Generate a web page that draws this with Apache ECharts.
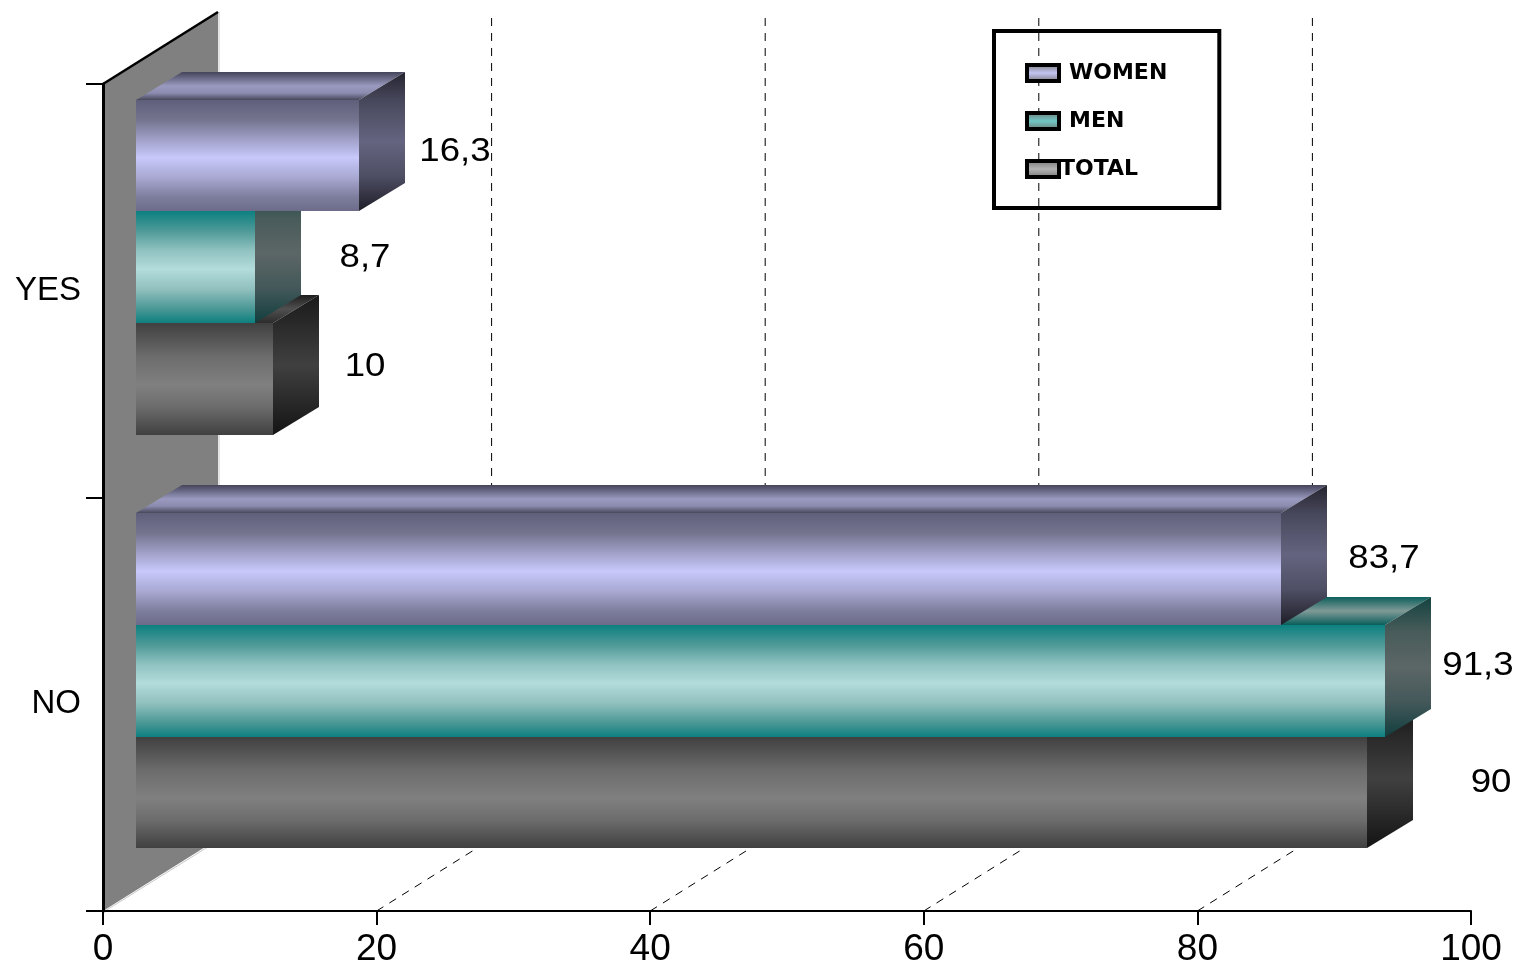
<!DOCTYPE html>
<html>
<head>
<meta charset="utf-8">
<style>html,body{margin:0;padding:0;background:#fff}#chart{width:1520px;height:964px}</style>
<script src="https://cdn.jsdelivr.net/npm/echarts@6/dist/echarts.min.js"></script>
</head>
<body>
<div id="chart"></div>
<script>
// ---- data ----
const categories = ['YES', 'NO'];
const women = [16.3, 83.7];
const men = [8.7, 91.3];
const total = [10, 90];
const xTicks = [0, 20, 40, 60, 80];

// ---- layout / style ----
const DEPTH = { dx: 46, dy: -28 };      // depth of each 3D bar
const WALL = { dx: 115, dy: -72 };      // depth of the chart box
const BAR_SHIFT = { dx: 33, dy: -23.5 };  // where the bars sit inside the box
const BAR_BAND = 0.27;
const palette = {
  WOMEN: {
    front: [[0,'#5f5f7b'],[0.18,'#74748f'],[0.38,'#a6a6d0'],[0.52,'#c8c8fb'],[0.7,'#a8a8d2'],[0.88,'#7c7c9c'],[1,'#6c6c8a']],
    top: [[0,'#44445a'],[0.5,'#9a9ac0'],[0.75,'#8c8cb0'],[1,'#48485c']],
    side: [[0,'#24242f'],[0.2,'#47475b'],[0.5,'#646480'],[0.75,'#4e4e64'],[1,'#1e1e28']],
    swatch: '#c4c4f4'
  },
  MEN: {
    front: [[0,'#0c8080'],[0.18,'#4f9a98'],[0.35,'#8fc2c0'],[0.52,'#b3dcdc'],[0.7,'#90c0be'],[0.88,'#489694'],[1,'#0c8080']],
    top: [[0,'#0d5f5c'],[0.5,'#7f9a97'],[1,'#0a5e5c']],
    side: [[0,'#134240'],[0.25,'#485c5a'],[0.5,'#5c6666'],[0.75,'#44585a'],[1,'#123e3e']],
    swatch: '#70c8c4'
  },
  TOTAL: {
    front: [[0,'#404040'],[0.3,'#6c6c6c'],[0.55,'#808080'],[0.75,'#6c6c6c'],[1,'#404040']],
    top: [[0,'#1e1e1e'],[0.5,'#505050'],[1,'#2c2c2c']],
    side: [[0,'#1a1a1a'],[0.5,'#404040'],[1,'#141414']],
    swatch: '#b4b4b4'
  }
};
// label position relative to the bar's value end and middle, one pair per category
const labelNudge = {
  WOMEN: [[96, -4], [103, -10]],
  MEN: [[110, -9], [93, -15]],
  TOTAL: [[92, -12], [124, -9]]
};
const LABEL_FONT = 33, LABEL_STRETCH = 1.11;

function grad(stops) {
  return { type: 'linear', x: 0, y: 0, x2: 0, y2: 1,
    colorStops: stops.map(s => ({ offset: s[0], color: s[1] })) };
}

function barRenderer(name, slot) {
  const c = palette[name];
  return function (params, api) {
    const v = api.value(0), cat = api.value(1);
    const base = api.coord([0, cat]);
    const end = api.coord([v, cat]);
    const h = api.size([0, 1])[1] * BAR_BAND;
    const x0 = Math.round(base[0] + BAR_SHIFT.dx);
    const x1 = Math.round(end[0] + BAR_SHIFT.dx);
    const yc = base[1] + BAR_SHIFT.dy + slot * h;
    const y0 = Math.round(yc - h / 2), y1 = Math.round(yc + h / 2);
    const dx = DEPTH.dx, dy = DEPTH.dy;
    const nudge = labelNudge[name][cat];
    return {
      type: 'group',
      children: [
        { type: 'polygon', shape: { points: [[x0, y0], [x1, y0], [x1 + dx, y0 + dy], [x0 + dx, y0 + dy]] },
          style: { fill: grad(c.top) } },
        { type: 'polygon', shape: { points: [[x1, y0], [x1 + dx, y0 + dy], [x1 + dx, y1 + dy], [x1, y1]] },
          style: { fill: grad(c.side) } },
        { type: 'rect', shape: { x: x0, y: y0, width: x1 - x0, height: y1 - y0 },
          style: { fill: grad(c.front) } },
        { type: 'text', x: x1 + nudge[0], y: yc + nudge[1], scaleX: LABEL_STRETCH,
          style: { text: String(v).replace('.', ','), x: 0, y: 0, align: 'center', verticalAlign: 'middle',
            fontFamily: 'Liberation Sans', fontSize: LABEL_FONT, fill: '#000' } }
      ]
    };
  };
}

function backdrop(params, api) {
  const v = api.value(0);
  const cs = params.coordSys;
  const px = api.coord([v, 0])[0];
  const bottom = cs.y + cs.height;
  const top = cs.y;
  const bx = px + WALL.dx, by = bottom + WALL.dy;
  if (v === 0) {
    return { type: 'group', children: [
      { type: 'polygon', shape: { points: [[px, top], [bx, top + WALL.dy], [bx, by], [px, bottom]] },
        style: { fill: '#808080' } },
      { type: 'polyline', shape: { points: [[bx + 1, top + WALL.dy], [bx + 1, by + 1], [px + 2, bottom]] },
        style: { stroke: '#c8c8c8', lineWidth: 1, fill: 'none' } },
      { type: 'line', shape: { x1: px, y1: top, x2: bx, y2: top + WALL.dy },
        style: { stroke: '#000', lineWidth: 2.5 } }
    ] };
  }
  const dash = { stroke: '#000', lineWidth: 1, lineDash: [8, 7], fill: 'none' };
  return { type: 'group', children: [
    { type: 'line', shape: { x1: px, y1: bottom, x2: bx, y2: by }, style: dash },
    { type: 'line', shape: { x1: bx, y1: top + WALL.dy + 6, x2: bx, y2: by }, style: dash }
  ] };
}

function pairs(values) { return values.map((v, i) => [v, i]); }

function barSeries(name, values, slot, z) {
  return {
    name, type: 'custom', coordinateSystem: 'cartesian2d', z, silent: true,
    renderItem: barRenderer(name, slot),
    encode: { x: 0, y: 1 },
    data: pairs(values)
  };
}

function legendItem(name, textPad) {
  const stops = [[0, '#707070'], [0.5, palette[name].swatch], [1, '#707070']];
  return { name, icon: 'rect',
    itemStyle: { color: grad(stops), borderColor: '#000', borderWidth: 4 },
    textStyle: { padding: [0, 0, 0, textPad] } };
}

const chart = echarts.init(document.getElementById('chart'));
chart.setOption({
  animation: false,
  backgroundColor: '#fff',
  grid: { left: 103, top: 84, width: 1368, height: 827, containLabel: false, outerBoundsMode: 'none' },
  xAxis: {
    type: 'value', min: 0, max: 100, interval: 20, z: 10,
    axisLine: { show: true, lineStyle: { color: '#000', width: 2 } },
    axisTick: { show: true, length: 14, lineStyle: { color: '#000', width: 2 } },
    axisLabel: { margin: 20, fontFamily: 'Liberation Sans', fontSize: 37, color: '#000', hideOverlap: false, showMinLabel: true, showMaxLabel: true },
    splitLine: { show: false }
  },
  yAxis: {
    type: 'category', data: categories, inverse: true, z: 10,
    axisLine: { show: true, onZero: false, lineStyle: { color: '#000', width: 3 } },
    axisTick: { show: true, length: 17, lineStyle: { color: '#000', width: 2 } },
    axisLabel: { margin: 22, fontFamily: 'Liberation Sans', fontSize: 33, color: '#000' },
    splitLine: { show: false }
  },
  legend: {
    left: 994, top: 31, orient: 'vertical',
    itemWidth: 32, itemHeight: 16, itemGap: 26, selectedMode: false,
    padding: [31, 52, 28, 31],
    borderColor: '#000', borderWidth: 4, z: 20,
    textStyle: { fontFamily: 'DejaVu Sans', fontWeight: 'bold', fontSize: 22, color: '#000' },
    data: [legendItem('WOMEN', 5), legendItem('MEN', 5), legendItem('TOTAL', -4)]
  },
  series: [
    { type: 'custom', coordinateSystem: 'cartesian2d', z: 1, silent: true, renderItem: backdrop,
      encode: { x: 0, y: 1 }, data: xTicks.map(v => [v, 0]) },
    barSeries('TOTAL', total, 1, 3),
    barSeries('MEN', men, 0, 4),
    barSeries('WOMEN', women, -1, 5)
  ]
});
</script>
</body>
</html>
